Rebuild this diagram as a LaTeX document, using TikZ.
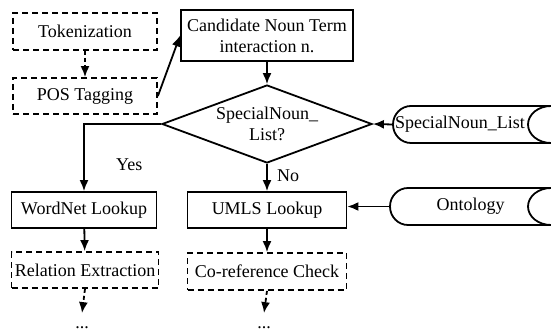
\documentclass[tikz,border=0pt]{standalone}
\usepackage{fontspec}
\setmainfont{Liberation Serif}
\usetikzlibrary{shapes}
\usetikzlibrary{arrows.meta}
\usetikzlibrary{positioning}

\tikzset{
  proc/.style={draw, line width=1.8pt, minimum height=36pt, inner sep=1pt, align=center},
  optproc/.style={proc, dash pattern=on 6pt off 4pt},
  decide/.style={draw, diamond, line width=1.8pt, inner sep=0pt, aspect=2.7,
    minimum width=210pt, minimum height=78pt, align=center},
  store/.style={minimum height=37pt, outer sep=0pt, inner sep=2pt},
  flow/.style={->, >={Latex[length=11pt,width=9pt]}, line width=1.8pt},
  optflow/.style={flow, dash pattern=on 4pt off 3pt}
}

% outline of a stored-data node: round left end, hollow right end
\newcommand{\storeline}[1]{%
  \draw[line width=1.8pt] ([xshift=18pt]#1.north west)
    arc[start angle=90, end angle=270, x radius=18pt, y radius=18.5pt]
    -- (#1.south east)
    arc[start angle=270, end angle=90, x radius=23pt, y radius=18.5pt]
    -- cycle;}

\begin{document}
\begin{tikzpicture}[x=1pt, y=-1pt, font=\fontsize{18}{21}\selectfont]
\useasboundingbox (0,0) rectangle (551,331);

% preprocessing
\node[optproc, minimum width=144pt, minimum height=37pt] (tok) at (85,31.5) {Tokenization};
\node[optproc, minimum width=144pt] (pos) at (85,96) {POS Tagging};
\node[proc, minimum width=172pt, minimum height=51pt] (cand) at (267,35.5) {Candidate Noun Term\\interaction n.};

% decision and its list
\node[decide] (dec) at (267,124) {SpecialNoun\_\\List?};
\node[store, anchor=west, text width=154pt, align=left] (snl) at (393,124.5) {SpecialNoun\_List};
\storeline{snl}

% lookups
\node[proc, minimum width=145pt] (wn) at (84,210) {WordNet Lookup};
\node[proc, minimum width=159pt] (umls) at (267,210) {UMLS Lookup};
\node[store, minimum width=161pt] (onto) at (470.5,206.5) {Ontology};
\storeline{onto}

% next steps
\node[optproc, minimum width=147pt] (rel) at (85,270) {Relation Extraction};
\node[optproc, minimum width=159pt, minimum height=37pt] (coref) at (267,271.5) {Co-reference Check};
\node[inner sep=0pt, anchor=base] (more1) at (82,328) {\strut...};
\node[inner sep=0pt, anchor=base] (more2) at (264,328) {\strut...};

% connectors
\draw[optflow] (tok) -- (pos);
\draw[flow] (pos.east) -- (cand.west);
\draw[flow] (cand) -- (dec);
\draw[flow] (snl.west) -- (dec.east);
\draw[flow] (dec.west) -| node[pos=0.8, right=28pt] {Yes} (wn.north);
\draw[flow] (dec.south) -- node[pos=0.45, right=6pt] {No} (umls.north);
\draw[flow] (onto.west) -- (onto.west -| umls.east);
\draw[flow] (wn) -- (rel);
\draw[flow] (umls) -- (coref);
\draw[optflow] (rel.south) -- (more1.north);
\draw[optflow] (coref.south) -- (more2.north);
\end{tikzpicture}
\end{document}
